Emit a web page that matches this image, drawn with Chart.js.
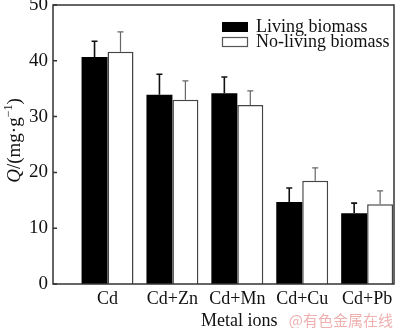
<!DOCTYPE html>
<html lang="en">
<head>
<meta charset="UTF-8">
<title>Metal ion adsorption capacity</title>
<script src="https://cdn.jsdelivr.net/npm/chart.js@4"></script>
<style>
  body { margin: 0; background: #fff; }
  .wrap { width: 400px; height: 328px; }
</style>
</head>
<body>
<div class="wrap"><canvas id="qChart"></canvas></div>
<script>
const metals = ['Cd', 'Cd+Zn', 'Cd+Mn', 'Cd+Cu', 'Cd+Pb'];
const living = [40.7, 33.9, 34.2, 14.7, 12.7];
const livingErr = [2.8, 3.7, 2.9, 2.5, 1.8];
const nonLiving = [41.6, 33.0, 32.1, 18.5, 14.3];
const nonLivingErr = [3.6, 3.4, 2.5, 2.3, 2.4];
const yTicks = [0, 10, 20, 30, 40, 50];

const serif = "'Liberation Serif', 'Times New Roman', serif";
Chart.defaults.font.family = serif;
Chart.defaults.color = '#111';

const errs = [livingErr, nonLivingErr];
const errStyle = [{ color: '#111', width: 1.6 }, { color: '#666', width: 1.2 }];

// error bars, frame, inward ticks, legend and titles
const decor = {
  id: 'decor',
  afterDatasetsDraw(chart) {
    const { ctx, chartArea: a, scales: { x, y } } = chart;
    ctx.save();
    chart.data.datasets.forEach((ds, i) => {
      const meta = chart.getDatasetMeta(i);
      ctx.strokeStyle = errStyle[i].color;
      ctx.lineWidth = errStyle[i].width;
      meta.data.forEach((bar, j) => {
        const top = y.getPixelForValue(ds.data[j].y + errs[i][j]);
        ctx.beginPath();
        ctx.moveTo(bar.x, bar.y);
        ctx.lineTo(bar.x, top);
        ctx.moveTo(bar.x - 3, top);
        ctx.lineTo(bar.x + 3, top);
        ctx.stroke();
      });
    });

    ctx.strokeStyle = '#333';
    ctx.lineWidth = 1.5;
    ctx.strokeRect(a.left, a.top, a.right - a.left, a.bottom - a.top);
    ctx.beginPath();
    yTicks.forEach(v => {
      const py = y.getPixelForValue(v);
      ctx.moveTo(a.left, py);
      ctx.lineTo(a.left + 4, py);
    });
    ctx.stroke();

    // legend
    const lx = a.left + 169, ly = a.top + 17;
    ctx.fillStyle = '#000';
    ctx.fillRect(lx, ly, 26, 10);
    ctx.strokeStyle = '#555';
    ctx.lineWidth = 1.2;
    ctx.strokeRect(lx + 0.5, ly + 15.5, 25, 9);
    ctx.fillStyle = '#111';
    ctx.font = `18px ${serif}`;
    ctx.textBaseline = 'alphabetic';
    ctx.textAlign = 'left';
    ctx.fillText('Living biomass', lx + 34, ly + 10);
    ctx.fillText('No-living biomass', lx + 34, ly + 25);

    // x title
    ctx.textAlign = 'center';
    ctx.fillText('Metal ions', x.getPixelForValue(3) + 2, 326);

    // y title with italic Q and superscript
    const parts = [
      { t: 'Q', f: `italic 19px ${serif}`, dy: 0 },
      { t: '/(mg·g', f: `19px ${serif}`, dy: 0 },
      { t: '−1', f: `12px ${serif}`, dy: -8 },
      { t: ')', f: `19px ${serif}`, dy: 0 }
    ];
    let total = 0;
    parts.forEach(p => { ctx.font = p.f; p.w = ctx.measureText(p.t).width; total += p.w; });
    ctx.translate(20, (a.top + a.bottom) / 2 - 4);
    ctx.rotate(-Math.PI / 2);
    ctx.textAlign = 'left';
    let cx = -total / 2;
    parts.forEach(p => {
      ctx.font = p.f;
      ctx.fillText(p.t, cx, p.dy);
      cx += p.w;
    });
    ctx.restore();

    ctx.save();
    ctx.fillStyle = '#efb0b0';
    ctx.font = "15px 'Noto Sans CJK SC', sans-serif";
    ctx.textAlign = 'right';
    ctx.textBaseline = 'alphabetic';
    ctx.fillText('@有色金属在线', 393, 326);
    ctx.restore();
  }
};

new Chart(document.getElementById('qChart'), {
  type: 'bar',
  data: {
    datasets: [
      {
        label: 'Living biomass',
        data: living.map((v, i) => ({ x: i + 1, y: v })),
        backgroundColor: '#000',
        borderWidth: 0
      },
      {
        label: 'No-living biomass',
        data: nonLiving.map((v, i) => ({ x: i + 1, y: v })),
        backgroundColor: '#fff',
        borderColor: '#444',
        borderWidth: 1.5
      }
    ]
  },
  options: {
    responsive: true,
    maintainAspectRatio: false,
    animation: false,
    categoryPercentage: 0.8,
    barPercentage: 1.0,
    layout: { padding: { top: 5, right: 6, left: 0, bottom: 0 } },
    plugins: { legend: { display: false }, tooltip: { enabled: false } },
    scales: {
      x: {
        type: 'linear',
        offset: false,
        min: 0.16,
        max: 5.414,
        afterBuildTicks: s => { s.ticks = metals.map((_, i) => ({ value: i + 1 })); },
        ticks: {
          callback: v => metals[v - 1],
          font: { size: 18 },
          padding: 4,
          autoSkip: false,
          maxRotation: 0
        },
        grid: { display: false, drawTicks: false, offset: false },
        border: { display: false },
        afterFit: s => { s.height = 44; s.paddingLeft = 0; s.paddingRight = 0; }
      },
      y: {
        min: 0,
        max: 50,
        ticks: { stepSize: 10, font: { size: 19 }, padding: 5 },
        grid: { display: false, drawTicks: false },
        border: { display: false },
        afterFit: s => { s.width = 53; s.paddingTop = 0; s.paddingBottom = 0; }
      }
    }
  },
  plugins: [decor]
});
</script>
</body>
</html>
